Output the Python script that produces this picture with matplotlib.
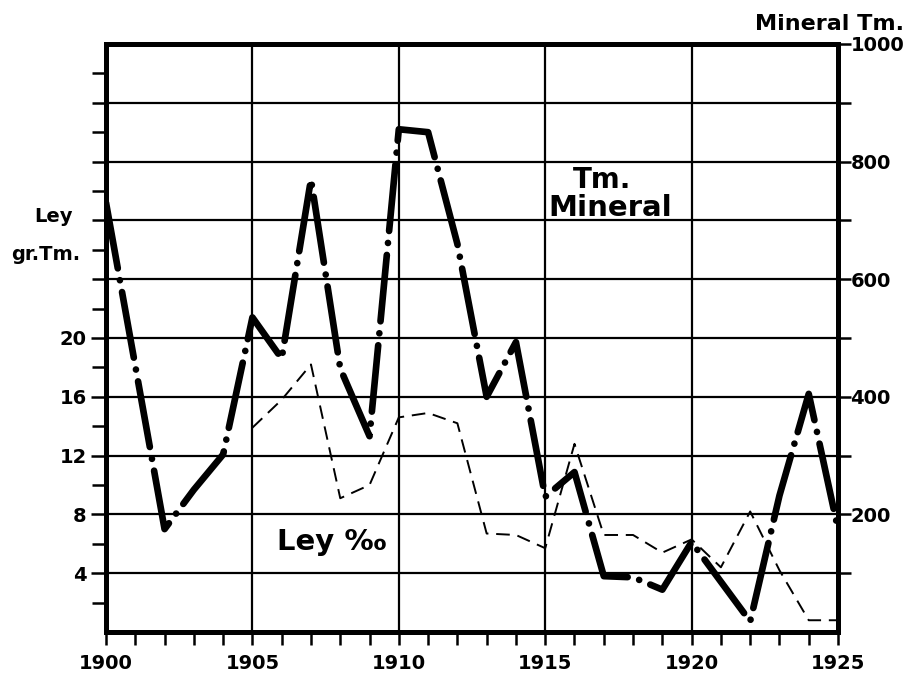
import matplotlib.pyplot as plt

# Mineral Tm. (thick dash-dot line, right axis)
mineral_years = [1900, 1902, 1903, 1904, 1905, 1906, 1907, 1908, 1909, 1910, 1911,
                 1912, 1913, 1914, 1915, 1916, 1917, 1918, 1919, 1920, 1922, 1923,
                 1924, 1925]
mineral_tm = [730, 175, 242, 302, 535, 465, 770, 448, 333, 855, 850,
              660, 400, 493, 230, 272, 95, 93, 72, 153, 18, 232,
              405, 175]

# Ley gr.Tm. (thin dashed line, left axis)
ley_years = [1905, 1906, 1907, 1908, 1909, 1910, 1911, 1912, 1913, 1914, 1915,
             1916, 1917, 1918, 1919, 1920, 1921, 1922, 1923, 1924, 1925]
ley_values = [13.9, 15.8, 18.2, 9.1, 10.0, 14.6, 14.9, 14.2, 6.7, 6.6, 5.7,
              12.8, 6.6, 6.6, 5.4, 6.3, 4.4, 8.2, 4.2, 0.8, 0.8]

year_labels = [1900, 1905, 1910, 1915, 1920, 1925]
ley_ticks = [4, 8, 12, 16, 20]
tm_ticks = [200, 400, 600, 800, 1000]

fnt = dict(family='DejaVu Sans', weight='bold')

fig = plt.figure(figsize=(9.1, 6.82), dpi=100)
ax = fig.add_axes([0.1165, 0.0733, 0.8044, 0.8622])
ax2 = ax.twinx()

ax.set_xlim(1900, 1925)
ax.set_ylim(0, 40)
ax2.set_ylim(0, 1000)

# grid
for v in range(100, 1000, 100):
    ax2.axhline(v, color='black', lw=1.6, zorder=1)
for yr in [1905, 1910, 1915, 1920]:
    ax.axvline(yr, color='black', lw=1.6, zorder=1)

ax2.plot(mineral_years, mineral_tm, color='black', lw=4.8,
         dashes=(10, 1.8, 0.01, 1.8), dash_capstyle='round',
         solid_joinstyle='round', zorder=3)
ax.plot(ley_years, ley_values, color='black', lw=1.4, dashes=(7, 4), zorder=2)

for sp in ['left', 'right', 'top', 'bottom']:
    ax.spines[sp].set_linewidth(3.6)
    ax2.spines[sp].set_linewidth(3.6)

ax.set_xticks(range(1900, 1926))
ax.set_xticklabels([str(y) if y in year_labels else '' for y in range(1900, 1926)],
                   fontsize=14, **fnt)
ax.tick_params(axis='x', direction='out', length=9, width=1.8, pad=7)

ax.set_yticks(ley_ticks)
ax.set_yticklabels([str(t) for t in ley_ticks], fontsize=14, **fnt)
ax.set_yticks(range(2, 40, 2), minor=True)
ax.tick_params(axis='y', which='major', direction='out', length=11, width=1.8, pad=3)
ax.tick_params(axis='y', which='minor', direction='out', length=10, width=1.8)

ax2.set_yticks(range(100, 1001, 100))
ax2.set_yticklabels([str(t) if t in tm_ticks else '' for t in range(100, 1001, 100)],
                    fontsize=14, **fnt)
ax2.tick_params(axis='y', direction='out', length=9, width=1.8, pad=0)

fig.text(0.059, 0.682, 'Ley', fontsize=14, ha='center', va='center', **fnt)
fig.text(0.050, 0.627, 'gr.Tm.', fontsize=14, ha='center', va='center', **fnt)
fig.text(0.993, 0.965, 'Mineral Tm.', fontsize=16, ha='right', va='center', **fnt)

ax2.text(1915.95, 769, 'Tm.', fontsize=20, ha='left', va='center', **fnt)
ax2.text(1915.1, 721, 'Mineral', fontsize=21, ha='left', va='center', **fnt)
ax.text(1905.85, 6.1, 'Ley ‰', fontsize=21, ha='left', va='center', **fnt)

fig.savefig('out.png', dpi=100)
